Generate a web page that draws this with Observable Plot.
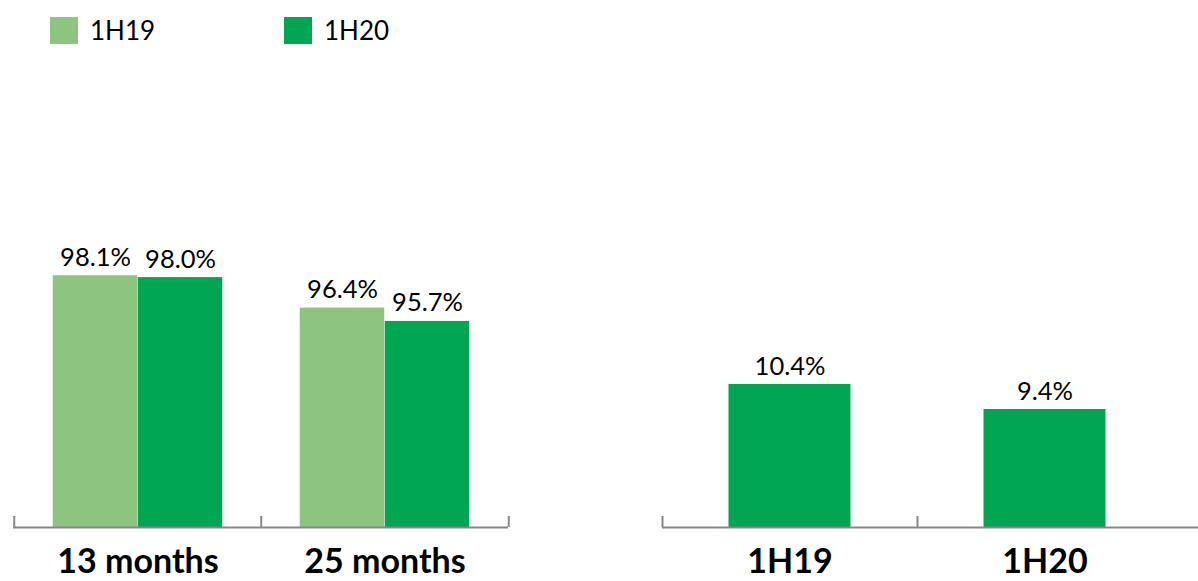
<!DOCTYPE html>
<html>
<head>
<meta charset="utf-8">
<script src="https://cdn.jsdelivr.net/npm/d3@7"></script>
<script src="https://cdn.jsdelivr.net/npm/@observablehq/plot@0.6"></script>
<style>
  body { margin: 0; background: #fff; font-family: Lato, sans-serif; }
  #wrap { position: relative; width: 1198px; height: 581px; background: #fff; overflow: hidden; }
  .legend { position: absolute; top: 14px; display: flex; align-items: center; font-size: 26px; color: #000; }
  .legend .sw { width: 28px; height: 27px; margin-right: 12px; }
  .chart { position: absolute; top: 0; }
</style>
</head>
<body>
<div id="wrap"></div>
<script>
// ---- data ----
const categories = ["13 months", "25 months"];
const series = ["1H19", "1H20"];
const values1H19 = [98.1, 96.4];
const values1H20 = [98.0, 95.7];
const ratioCategories = ["1H19", "1H20"];
const ratioValues = [10.4, 9.4];
const seriesColors = ["#8DC580", "#00A651"];

// ---- derived tables ----
const leftData = [];
categories.forEach((c, i) => {
  leftData.push({category: c, series: series[0], value: values1H19[i]});
  leftData.push({category: c, series: series[1], value: values1H20[i]});
});
const rightData = ratioCategories.map((c, i) => ({category: c, value: ratioValues[i]}));

const wrap = document.getElementById("wrap");

// legend
const legendX = [50, 284];
series.forEach((s, i) => {
  const d = document.createElement("div");
  d.className = "legend";
  d.style.left = legendX[i] + "px";
  d.innerHTML = `<div class="sw" style="background:${seriesColors[i]}"></div><span>${s}</span>`;
  wrap.appendChild(d);
});

const H = 581, MT = 100, MB = 54, PH = H - MT - MB;
const axisColor = "#868686";
const tickPx = 11;
const catFont = 34, catPad = 21;

// ---- left chart ----
{
  const W = 520, ML = 13, MR = 12;
  const yDom = [84.88, 107.3];
  const band = (W - ML - MR) / categories.length;
  const tickTop = yDom[0] + tickPx * (yDom[1] - yDom[0]) / PH;
  const barW = 85, half = band / 2;
  const marks = [];
  series.forEach((s, si) => {
    const d = leftData.filter(r => r.series === s);
    const insetL = si === 0 ? half - barW : half;
    const insetR = si === 0 ? half : half - barW;
    const off = si === 0 ? -barW / 2 : barW / 2;
    marks.push(Plot.barY(d, {x: "category", y1: yDom[0], y2: "value", fill: seriesColors[si], insetLeft: insetL, insetRight: insetR}));
    marks.push(Plot.text(d, {x: "category", y: "value", text: r => r.value.toFixed(1) + "%", dx: off, dy: -10, lineAnchor: "bottom", fontSize: 25.5, fill: "#000"}));
  });
  marks.push(Plot.ruleY([yDom[0]], {stroke: axisColor, strokeWidth: 2}));
  marks.push(Plot.ruleX(categories, {x: d => d, dx: -half, y1: yDom[0], y2: tickTop, stroke: axisColor, strokeWidth: 2}));
  marks.push(Plot.ruleX(categories.slice(-1), {x: d => d, dx: half, y1: yDom[0], y2: tickTop, stroke: axisColor, strokeWidth: 2}));
  marks.push(Plot.axisX({tickSize: 0, tickPadding: catPad, fontSize: catFont, fontWeight: "bold", label: null, fill: "#000"}));
  const p = Plot.plot({
    width: W, height: H, marginLeft: ML, marginRight: MR, marginTop: MT, marginBottom: MB,
    x: {type: "band", domain: categories, padding: 0},
    y: {domain: yDom, axis: null},
    style: {fontFamily: "Lato", color: "#000", background: "transparent", overflow: "visible"},
    marks
  });
  p.classList.add("chart");
  p.style.left = "0px";
  wrap.appendChild(p);
}

// ---- right chart ----
{
  const left = 640, W = 558, ML = 22, MR = 26;
  const yDom = [4.68, 21.76];
  const band = (W - ML - MR) / ratioCategories.length;
  const half = band / 2;
  const barW = 122;
  const tickTop = yDom[0] + tickPx * (yDom[1] - yDom[0]) / PH;
  const p = Plot.plot({
    width: W, height: H, marginLeft: ML, marginRight: MR, marginTop: MT, marginBottom: MB,
    x: {type: "band", domain: ratioCategories, padding: 0},
    y: {domain: yDom, axis: null},
    style: {fontFamily: "Lato", color: "#000", background: "transparent", overflow: "visible"},
    marks: [
      Plot.barY(rightData, {x: "category", y1: yDom[0], y2: "value", fill: seriesColors[1], insetLeft: (band - barW) / 2, insetRight: (band - barW) / 2}),
      Plot.text(rightData, {x: "category", y: "value", text: r => r.value.toFixed(1) + "%", dy: -10, lineAnchor: "bottom", fontSize: 25.5, fill: "#000"}),
      Plot.ruleY([yDom[0]], {stroke: axisColor, strokeWidth: 2, insetRight: -MR}),
      Plot.ruleX(ratioCategories, {x: d => d, dx: -half, y1: yDom[0], y2: tickTop, stroke: axisColor, strokeWidth: 2}),
      Plot.axisX({tickSize: 0, tickPadding: catPad, fontSize: catFont, fontWeight: "bold", label: null, fill: "#000"})
    ]
  });
  p.classList.add("chart");
  p.style.left = left + "px";
  wrap.appendChild(p);
}
</script>
</body>
</html>
